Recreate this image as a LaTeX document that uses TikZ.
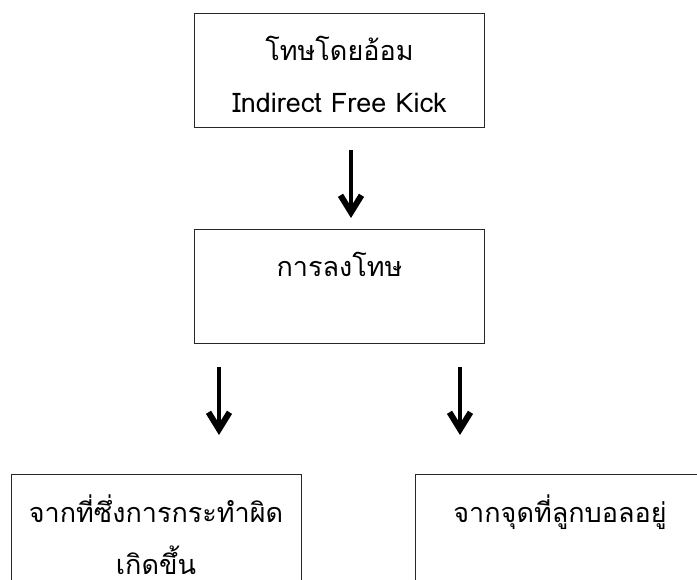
\documentclass[tikz,border=0pt]{standalone}
\usepackage{fontspec}
\newfontfamily\thaifont[Script=Thai]{Loma}
\usetikzlibrary{arrows.meta}
\tikzset{
	block/.style  = {draw=black!85, line width=0.9pt, fill=white, rectangle, minimum width=290pt, inner sep=0pt, text height=100pt, text depth=14pt, align=center, font=\thaifont\fontsize{27}{52}\selectfont},
	hidden/.style = {coordinate},
	flow/.style   = {line width=4.5pt, -{Straight Barb[length=17pt, width=21pt, line width=6pt]}},
}

\begin{document}
\begin{tikzpicture}[auto]
		\useasboundingbox (0,0) rectangle (697pt,-580pt);
		% Draw the boxes
		\draw
		node[block] at (339.5pt,-70pt) (indirect) {โทษโดยอ้อม\\Indirect Free Kick}
		node[block , below of = indirect, node distance = 216pt] (penalty) {การลงโทษ\\\mbox{}}
		node[block , below of = penalty , node distance = 245pt, xshift = -183.5pt] (offence) {จากที่ซึ่งการกระทำผิด\\เกิดขึ้น}
		node[block , below of = penalty , node distance = 245pt, xshift = 220.5pt] (ballspot) {จากจุดที่ลูกบอลอยู่\\\mbox{}};
		
		% Draw the arrow ends
		\draw
		node[hidden, below of = indirect, node distance = 80pt, xshift = 11.5pt] (topstart) {}
		node[hidden, above of = penalty , node distance = 68pt, xshift = 11.5pt] (topend) {}
		node[hidden, below of = penalty , node distance = 81pt, xshift = -120.5pt] (leftstart) {}
		node[hidden, above of = offence , node distance = 96pt, xshift = 63pt] (leftend) {}
		node[hidden, below of = penalty , node distance = 81pt, xshift = 120.5pt] (rightstart) {}
		node[hidden, above of = ballspot, node distance = 96pt, xshift = -100pt] (rightend) {};
		
		% Connect everything together
		\draw[flow] (topstart) -- (topend);
		\draw[flow] (leftstart) -- (leftend);
		\draw[flow] (rightstart) -- (rightend);
	\end{tikzpicture}
\end{document}
